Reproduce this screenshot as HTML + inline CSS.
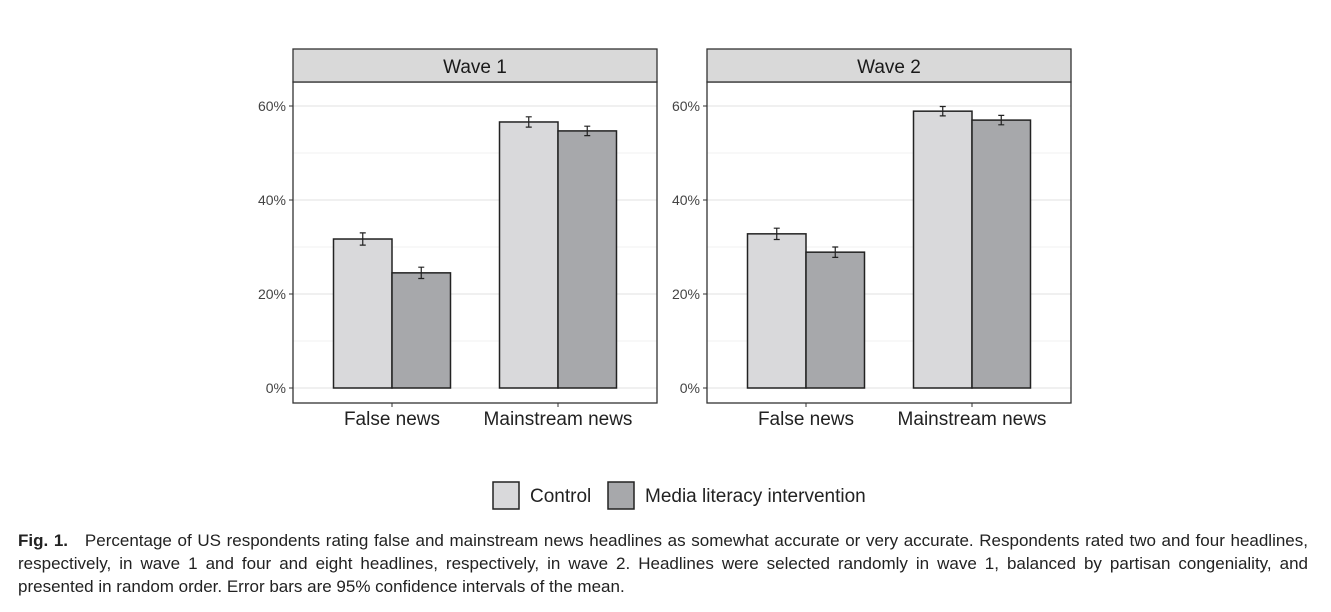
<!DOCTYPE html>
<html><head><meta charset="utf-8"><style>
body{margin:0;background:#fff;width:1331px;height:612px;overflow:hidden;font-family:"Liberation Sans",sans-serif}
.cap{position:absolute;left:18px;top:529px;width:1290px;font-size:17px;line-height:23px;color:#222;text-align:justify}
</style></head><body>
<svg id="chart" width="1331" height="520" style="position:absolute;left:0;top:0" font-family="Liberation Sans, sans-serif"></svg>
<div class="cap"><b>Fig. 1.</b>&nbsp;&nbsp; Percentage of US respondents rating false and mainstream news headlines as somewhat accurate or very accurate. Respondents rated two and four headlines, respectively, in wave 1 and four and eight headlines, respectively, in wave 2. Headlines were selected randomly in wave 1, balanced by partisan congeniality, and presented in random order. Error bars are 95% confidence intervals of the mean.</div>
<script>
const panels=["Wave 1","Wave 2"];
const categories=["False news","Mainstream news"];
const groups=["Control","Media literacy intervention"];
const controlValues=[[31.7,56.6],[32.8,58.9]];
const interventionValues=[[24.5,54.7],[28.9,57.0]];
const controlErr=[[1.3,1.1],[1.2,1.0]];
const interventionErr=[[1.2,1.0],[1.1,1.0]];
const yTicks=[0,20,40,60];
const yTickLabels=["0%","20%","40%","60%"];
const NS="http://www.w3.org/2000/svg";
const svg=document.getElementById("chart");
function mk(t,a,p){const e=document.createElementNS(NS,t);for(const k in a)e.setAttribute(k,a[k]);(p||svg).appendChild(e);return e;}
const y=v=>388-v*4.7;
const panelX=[293,707],pw=364,yTop=82,bot=403;
const fills=["#d9d9db","#a7a8ab"];
panels.forEach((p,pi)=>{
  const x0=panelX[pi];
  const g=mk("g",{});
  
  
  [10,30,50].forEach(v=>mk("line",{x1:x0,x2:x0+pw,y1:y(v),y2:y(v),stroke:"#f2f2f2","stroke-width":1},g));
  yTicks.forEach((v,i)=>{
    mk("line",{x1:x0,x2:x0+pw,y1:y(v),y2:y(v),stroke:"#e6e6e6","stroke-width":1.3},g);
    mk("line",{x1:x0-4,x2:x0,y1:y(v),y2:y(v),stroke:"#333"},g);
    const t=mk("text",{x:x0-7,y:y(v)+5,"text-anchor":"end","font-size":14,fill:"#444"},g);t.textContent=yTickLabels[i];
    
    
  });
  const bw=58.5;
  categories.forEach((c,ci)=>{
    const cx=x0+99+ci*166;
    [[controlValues,controlErr],[interventionValues,interventionErr]].forEach((s,si)=>{
      const v=s[0][pi][ci],e=s[1][pi][ci];
      const bx=cx-bw+si*bw;
      const r=mk("rect",{x:bx,y:y(v),width:bw,height:y(0)-y(v),fill:fills[si],stroke:"#222","stroke-width":1.5},g);
      
      
      const mx=bx+bw/2;
      mk("path",{d:`M${mx-3},${y(v+e)}H${mx+3}M${mx},${y(v+e)}V${y(v-e)}M${mx-3},${y(v-e)}H${mx+3}`,stroke:"#222","stroke-width":1.2,fill:"none"},g);
    });
    mk("line",{x1:cx,x2:cx,y1:bot,y2:bot+4,stroke:"#333"},g);
    const t=mk("text",{x:cx,y:bot+22,"text-anchor":"middle","font-size":19,fill:"#222"},g);t.textContent=c;
    
    
  });
  mk("rect",{x:x0,y:yTop,width:pw,height:bot-yTop,fill:"none",stroke:"#333","stroke-width":1.3},g);
  const s=mk("rect",{x:x0,y:49,width:pw,height:33,fill:"#d9d9d9",stroke:"#333","stroke-width":1.3},g);
  
  
  const st=mk("text",{x:x0+pw/2,y:73,"text-anchor":"middle","font-size":19,fill:"#1a1a1a"},g);st.textContent=p;
});
const lg=mk("g",{});


const lx=[493,608];
groups.forEach((gname,i)=>{
  const r=mk("rect",{x:lx[i],y:482,width:26,height:27,fill:fills[i],stroke:"#222","stroke-width":1.5},lg);
  
  
  const t=mk("text",{x:lx[i]+37,y:502,"font-size":19,fill:"#222"},lg);t.textContent=gname;
  
  
});
</script>
</body></html>
